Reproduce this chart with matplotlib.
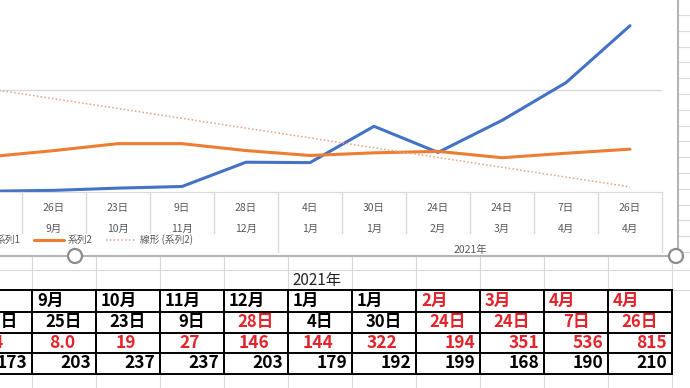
import numpy as np
import matplotlib.pyplot as plt
from matplotlib.transforms import blended_transform_factory
from matplotlib.patches import Rectangle, Circle

plt.rcParams['font.family'] = ['Noto Sans CJK JP', 'DejaVu Sans']

# chart axis labels (two levels + year group)
axis_days = ['28日', '26日', '23日', '9日', '28日', '4日', '30日', '24日', '24日', '7日', '26日']
axis_months = ['8月', '9月', '10月', '11月', '12月', '1月', '1月', '2月', '3月', '4月', '4月']
year_label = '2021年'
year_start = 5  # first category of 2021

series1 = [4, 8.0, 19, 27, 146, 144, 322, 194, 351, 536, 815]
series2 = [173, 203, 237, 237, 203, 179, 192, 199, 168, 190, 210]
trend_x = [0, 10]
trend_y = [505, 25]   # 線形 (系列2)

# spreadsheet table below the chart
tbl_months = ['8月', '9月', '10月', '11月', '12月', '1月', '1月', '2月', '3月', '4月', '4月']
tbl_days = ['28日', '25日', '23日', '9日', '28日', '4日', '30日', '24日', '24日', '7日', '26日']
tbl_s1_text = ['4', '8.0', '19', '27', '146', '144', '322', '194', '351', '536', '815']
month_red = [False, False, False, False, False, False, False, True, True, True, True]
day_red = [False, False, False, False, True, False, False, True, True, True, True]

RED = '#e3242b'
GRAY_TXT = '#595959'
n = len(series1)
x = np.arange(n)

fig = plt.figure(figsize=(6.9, 3.88), dpi=100)

# ---- background: sheet in pixel coords
bg = fig.add_axes([0, 0, 1, 1])
bg.set_xlim(0, 690)
bg.set_ylim(388, 0)
bg.axis('off')

col_edges = np.linspace(-32, 672, n + 1)
grid_c = '#d9d9d9'
for xe in col_edges:
    bg.plot([xe, xe], [256, 388], color=grid_c, lw=0.8)
for ye in [270, 290]:
    bg.plot([0, 690], [ye, ye], color=grid_c, lw=0.8)
for ye in np.arange(15, 260, 15.8):
    bg.plot([678, 690], [ye, ye], color=grid_c, lw=0.8)

# chart area
bg.add_patch(Rectangle((0, 0), 678, 256, facecolor='white', edgecolor='none'))
bg.plot([0, 678], [256, 256], color='#b4b4b4', lw=1.5)
bg.plot([678, 678], [0, 256], color='#b4b4b4', lw=1.5)
for cx in [75, 676]:
    bg.add_patch(Circle((cx, 256), 7, facecolor='white', edgecolor='#8c8c8c', lw=1.6, zorder=5))

# table
row_edges = [290, 312, 333, 353, 374]
for ye in row_edges:
    bg.plot([0, col_edges[-1]], [ye, ye], color='black', lw=1.4)
for xe in col_edges:
    bg.plot([xe, xe], [row_edges[0], row_edges[-1]], color='black', lw=1.4)

bg.text(col_edges[year_start] + 4, 281, year_label, fontsize=11, ha='left', va='center', color='#222222')
for i in range(n):
    left, right = col_edges[i], col_edges[i + 1]
    mid = (left + right) / 2
    bg.text(left + 5, 301, tbl_months[i], fontsize=12, fontweight='bold', ha='left', va='center',
            color=RED if month_red[i] else 'black')
    bg.text(mid, 322.5, tbl_days[i], fontsize=12, fontweight='bold', ha='center', va='center',
            color=RED if day_red[i] else 'black')
    if i < 7:
        bg.text(mid - 2, 343, tbl_s1_text[i], fontsize=12.5, fontweight='bold', ha='center', va='center', color=RED)
    else:
        bg.text(right - 5, 343, tbl_s1_text[i], fontsize=12.5, fontweight='bold', ha='right', va='center', color=RED)
    bg.text(right - 5, 363.5, f'{series2[i]}', fontsize=12.5, fontweight='bold', ha='right', va='center', color='black')

# ---- chart plot area: pixel x 0..662, y 0..192
ax = fig.add_axes([0, (388 - 192) / 388, 662 / 690, 192 / 388])
ax.set_facecolor('none')
ax.set_xlim(10 / 64, 10.5)
ax.set_ylim(0, 941)

l1, = ax.plot(x, series1, color='#4472c4', lw=2.2, label='系列1', solid_capstyle='round')
l2, = ax.plot(x, series2, color='#ed7d31', lw=2.2, label='系列2', solid_capstyle='round')
l3, = ax.plot(trend_x, trend_y, color='#e9a27c', lw=1.1, ls=(0, (1, 1.5)), label='線形 (系列2)')

ax.axhline(500, color='#d9d9d9', lw=1, zorder=0)
for s in ['top', 'right', 'left']:
    ax.spines[s].set_visible(False)
ax.spines['bottom'].set_color('#d9d9d9')
ax.set_xticks([])
ax.set_yticks([])

tr = blended_transform_factory(ax.transData, ax.transAxes)
for i in range(n):
    ax.text(i, -0.083, axis_days[i], transform=tr, ha='center', va='center', fontsize=7.5, color=GRAY_TXT)
    ax.text(i, -0.19, axis_months[i], transform=tr, ha='center', va='center', fontsize=7.5, color=GRAY_TXT)
for k in range(n):
    xb = k + 0.5
    long_line = (k + 1 == year_start) or (k == n - 1)
    ax.plot([xb, xb], [0, -0.31 if long_line else -0.214], transform=tr, color='#d9d9d9', lw=1, clip_on=False)
ax.text((year_start - 0.5 + n - 0.5) / 2, -0.302, year_label, transform=tr, ha='center', va='center',
        fontsize=7.5, color=GRAY_TXT)

fig.legend(handles=[l1, l2, l3], loc='center left', bbox_to_anchor=(-38 / 690, 1 - 240 / 388),
           ncol=3, frameon=False, fontsize=7, handlelength=3.1, handletextpad=0.35,
           columnspacing=1.4, borderpad=0, borderaxespad=0, labelcolor=GRAY_TXT)

fig.savefig('out.png', dpi=100)
